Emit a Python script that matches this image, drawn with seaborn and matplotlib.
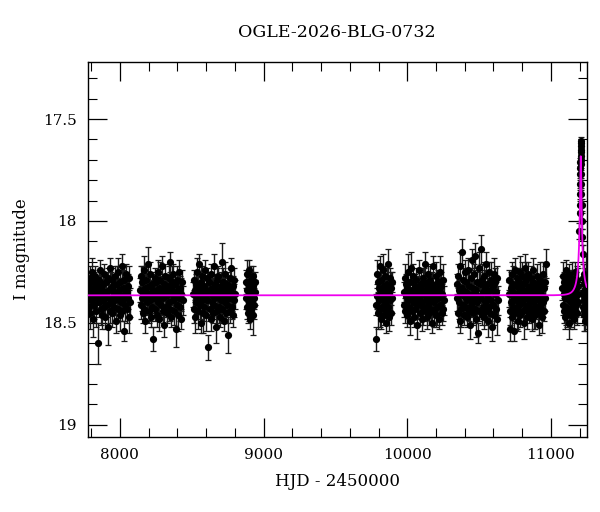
import numpy as np
import pandas as pd
import matplotlib
matplotlib.use("Agg")
import matplotlib.pyplot as plt
import seaborn as sns
from matplotlib.ticker import MultipleLocator

# ---------------- data ----------------
TITLE = "OGLE-2026-BLG-0732"
XLABEL = "HJD - 2450000"
YLABEL = "I magnitude"

# observing seasons: (start, end) in HJD-2450000
season_windows = [(7778, 8068), (8140, 8436), (8510, 8800), (8876, 8940),
                  (9782, 9894), (9976, 10255), (10343, 10630), (10707, 10963),
                  (11080, 11192), (11224, 11250)]

s1 = [18.31, 18.42, 18.36, 18.28, 18.45, 18.33, 18.39, 18.25, 18.37, 18.48,
      18.34, 18.30, 18.41, 18.36, 18.27, 18.44, 18.38, 18.32, 18.60, 18.35,
      18.29, 18.40, 18.37, 18.24, 18.43, 18.33, 18.46, 18.38, 18.31, 18.39,
      18.26, 18.42, 18.35, 18.47, 18.30, 18.36, 18.41, 18.28, 18.52, 18.34,
      18.38, 18.23, 18.44, 18.33, 18.40, 18.29, 18.45, 18.37, 18.32, 18.42,
      18.35, 18.27, 18.39, 18.49, 18.31, 18.36, 18.43, 18.25, 18.38, 18.34,
      18.46, 18.30, 18.40, 18.37, 18.22, 18.44, 18.33, 18.39, 18.29, 18.54,
      18.36, 18.41, 18.26, 18.35, 18.43, 18.32, 18.38, 18.47, 18.28, 18.40]
s2 = [18.34, 18.27, 18.41, 18.38, 18.30, 18.45, 18.36, 18.24, 18.43, 18.33,
      18.49, 18.35, 18.29, 18.40, 18.37, 18.21, 18.44, 18.32, 18.39, 18.26,
      18.47, 18.36, 18.31, 18.42, 18.34, 18.58, 18.38, 18.28, 18.43, 18.35,
      18.30, 18.46, 18.37, 18.25, 18.40, 18.33, 18.48, 18.36, 18.29, 18.41,
      18.35, 18.22, 18.44, 18.38, 18.31, 18.51, 18.34, 18.27, 18.42, 18.37,
      18.32, 18.45, 18.36, 18.28, 18.40, 18.20, 18.43, 18.33, 18.47, 18.35,
      18.30, 18.39, 18.26, 18.44, 18.37, 18.31, 18.53, 18.36, 18.29, 18.41,
      18.34, 18.46, 18.38, 18.25, 18.42, 18.33, 18.48, 18.36, 18.30, 18.39]
s3 = [18.36, 18.29, 18.43, 18.34, 18.47, 18.31, 18.40, 18.25, 18.38, 18.44,
      18.33, 18.21, 18.41, 18.36, 18.50, 18.30, 18.39, 18.27, 18.45, 18.35,
      18.32, 18.42, 18.37, 18.24, 18.46, 18.34, 18.39, 18.28, 18.62, 18.36,
      18.30, 18.43, 18.35, 18.48, 18.26, 18.40, 18.33, 18.45, 18.37, 18.22,
      18.41, 18.31, 18.38, 18.52, 18.34, 18.29, 18.44, 18.36, 18.27, 18.42,
      18.35, 18.47, 18.32, 18.39, 18.20, 18.43, 18.37, 18.30, 18.49, 18.34,
      18.40, 18.26, 18.45, 18.36, 18.31, 18.41, 18.56, 18.33, 18.38, 18.28,
      18.44, 18.35, 18.23, 18.42, 18.37, 18.46, 18.32, 18.39, 18.29, 18.36]
s4 = [18.30, 18.38, 18.26, 18.42, 18.34, 18.45, 18.31, 18.37, 18.24, 18.40,
      18.35, 18.48, 18.29, 18.36, 18.43, 18.33, 18.39, 18.27, 18.46, 18.32,
      18.38, 18.41, 18.35, 18.30]
s5 = [18.58, 18.41, 18.26, 18.37, 18.45, 18.30, 18.33, 18.39, 18.22, 18.43,
      18.35, 18.48, 18.29, 18.36, 18.42, 18.24, 18.38, 18.46, 18.32, 18.40,
      18.27, 18.44, 18.34, 18.50, 18.31, 18.37, 18.21, 18.42, 18.36, 18.47,
      18.28, 18.39, 18.33, 18.45, 18.30, 18.38]
s6 = [18.41, 18.35, 18.28, 18.44, 18.37, 18.31, 18.46, 18.33, 18.39, 18.25,
      18.42, 18.36, 18.49, 18.30, 18.38, 18.23, 18.44, 18.34, 18.40, 18.27,
      18.47, 18.36, 18.32, 18.43, 18.35, 18.29, 18.51, 18.38, 18.33, 18.41,
      18.24, 18.45, 18.37, 18.31, 18.40, 18.34, 18.48, 18.28, 18.42, 18.36,
      18.30, 18.44, 18.21, 18.39, 18.35, 18.47, 18.32, 18.41, 18.26, 18.38,
      18.45, 18.34, 18.29, 18.43, 18.37, 18.50, 18.31, 18.40, 18.22, 18.36,
      18.44, 18.33, 18.39, 18.27, 18.46, 18.35, 18.42, 18.30, 18.38, 18.48,
      18.34, 18.25, 18.41, 18.37, 18.32, 18.45, 18.36, 18.29, 18.43, 18.39]
s7 = [18.38, 18.31, 18.45, 18.27, 18.40, 18.34, 18.49, 18.22, 18.36, 18.43,
      18.15, 18.33, 18.41, 18.29, 18.46, 18.37, 18.25, 18.42, 18.35, 18.30,
      18.47, 18.39, 18.24, 18.44, 18.32, 18.38, 18.51, 18.28, 18.41, 18.36,
      18.19, 18.45, 18.33, 18.39, 18.26, 18.43, 18.17, 18.34, 18.48, 18.30,
      18.40, 18.55, 18.37, 18.23, 18.44, 18.31, 18.14, 18.38, 18.46, 18.29,
      18.42, 18.35, 18.27, 18.47, 18.33, 18.40, 18.21, 18.44, 18.36, 18.31,
      18.49, 18.38, 18.25, 18.42, 18.34, 18.45, 18.29, 18.39, 18.52, 18.32,
      18.41, 18.26, 18.46, 18.36, 18.30, 18.43, 18.35, 18.48, 18.28, 18.39]
s8 = [18.36, 18.29, 18.44, 18.53, 18.33, 18.40, 18.26, 18.47, 18.35, 18.31,
      18.42, 18.54, 18.38, 18.24, 18.45, 18.32, 18.39, 18.28, 18.43, 18.36,
      18.49, 18.30, 18.41, 18.34, 18.25, 18.46, 18.37, 18.33, 18.40, 18.27,
      18.44, 18.35, 18.50, 18.31, 18.38, 18.23, 18.42, 18.36, 18.29, 18.47,
      18.34, 18.41, 18.26, 18.39, 18.45, 18.32, 18.37, 18.28, 18.43, 18.35,
      18.48, 18.30, 18.40, 18.24, 18.44, 18.33, 18.38, 18.46, 18.31, 18.42,
      18.36, 18.27, 18.45, 18.34, 18.39, 18.51, 18.29, 18.41, 18.35, 18.43,
      18.32, 18.47, 18.37, 18.26, 18.40, 18.33, 18.44, 18.30, 18.38, 18.21]
s9 = [18.33, 18.41, 18.27, 18.44, 18.36, 18.30, 18.47, 18.38, 18.24, 18.42,
      18.35, 18.29, 18.45, 18.37, 18.32, 18.50, 18.39, 18.26, 18.43, 18.34,
      18.40, 18.31, 18.46, 18.36, 18.28, 18.42, 18.35, 18.48, 18.30, 18.38,
      18.25, 18.44, 18.33, 18.41, 18.37, 18.29, 18.45, 18.36, 18.32, 18.40]
s10 = [18.35, 18.42, 18.28, 18.39, 18.46, 18.31, 18.37, 18.44, 18.26, 18.40,
       18.34, 18.49, 18.30, 18.38, 18.43, 18.33, 18.36, 18.41, 18.27, 18.45,
       18.32, 18.39, 18.47, 18.35]
season_mags = [s1, s2, s3, s4, s5, s6, s7, s8, s9, s10]

# typical photometric errors
err_typical = [0.06, 0.05, 0.07, 0.06, 0.08, 0.05, 0.06, 0.07, 0.05, 0.09,
               0.06, 0.05, 0.07, 0.06, 0.05, 0.08, 0.06, 0.05, 0.10, 0.06,
               0.05, 0.07, 0.06, 0.05, 0.08, 0.06, 0.07, 0.05, 0.06, 0.07,
               0.05, 0.06, 0.08, 0.06, 0.05, 0.07, 0.06, 0.05, 0.09, 0.06,
               0.07, 0.05, 0.06, 0.08, 0.05, 0.06, 0.07, 0.06, 0.05, 0.08,
               0.06, 0.05, 0.07, 0.06, 0.09, 0.05, 0.06, 0.07, 0.05, 0.06,
               0.08, 0.06, 0.05, 0.07, 0.06, 0.05, 0.09, 0.06, 0.07, 0.05,
               0.06, 0.08, 0.05, 0.06, 0.07, 0.06, 0.05, 0.08, 0.06, 0.07]

# points on the microlensing peak
peak_t = [11199, 11201, 11202, 11203, 11204, 11205, 11205.5, 11206, 11206.5,
          11207, 11207.5, 11208, 11208.5, 11209, 11209.5, 11210, 11211, 11212,
          11213, 11214, 11216, 11218, 11221]
peak_mag = [18.05, 17.96, 17.92, 17.87, 17.82, 17.77, 17.74, 17.71, 17.68,
            17.65, 17.62, 17.61, 17.63, 17.66, 17.70, 17.72, 17.77, 17.82,
            17.87, 17.92, 18.00, 18.08, 18.16]
peak_err = [0.04, 0.04, 0.03, 0.03, 0.03, 0.03, 0.03, 0.02, 0.02,
            0.02, 0.02, 0.02, 0.02, 0.02, 0.02, 0.03, 0.03, 0.03,
            0.03, 0.03, 0.04, 0.04, 0.04]

# Paczynski point-lens model parameters
I_BASE = 18.365
T0 = 11208.0
TE = 45.0
U0 = 0.1
FS = 0.097

XLIM = (7775, 11250)
YLIM = (19.06, 17.22)

# ---------------- build tables ----------------
rows = []
for (a, b), mags in zip(season_windows, season_mags):
    tt = np.linspace(a, b, len(mags))
    for i, (t, m) in enumerate(zip(tt, mags)):
        rows.append((t, m, err_typical[i % len(err_typical)]))
for t, m, e in zip(peak_t, peak_mag, peak_err):
    rows.append((t, m, e))
df = pd.DataFrame(rows, columns=["hjd", "mag", "err"])

tm = np.linspace(XLIM[0], XLIM[1], 6000)
u = np.sqrt(U0 ** 2 + ((tm - T0) / TE) ** 2)
A = (u ** 2 + 2) / (u * np.sqrt(u ** 2 + 4))
mod = pd.DataFrame({"hjd": tm, "mag": I_BASE - 2.5 * np.log10(FS * A + 1 - FS)})

# ---------------- plot ----------------
sns.set_theme(style="ticks")
plt.rcParams["font.family"] = ["DejaVu Serif"]
plt.rcParams["mathtext.fontset"] = "dejavuserif"
plt.rcParams["text.color"] = "black"
plt.rcParams["axes.labelcolor"] = "black"
plt.rcParams["xtick.color"] = "black"
plt.rcParams["ytick.color"] = "black"

fig = plt.figure(figsize=(6, 5.12), dpi=100)
ax = fig.add_axes([0.146, 0.1465, 0.832, 0.7325])

ax.errorbar(df["hjd"], df["mag"], yerr=df["err"], fmt="none",
            ecolor="#1a1a1a", elinewidth=1.0, capsize=2.2, capthick=0.9,
            zorder=2)
sns.scatterplot(data=df, x="hjd", y="mag", ax=ax, color="black", s=27,
                edgecolor="black", linewidth=0, zorder=3, legend=False)
sns.lineplot(data=mod, x="hjd", y="mag", ax=ax, color="#ee00ee", lw=1.3,
             zorder=4, legend=False, sort=False, estimator=None)

ax.set_xlim(*XLIM)
ax.set_ylim(*YLIM)
ax.xaxis.set_major_locator(MultipleLocator(1000))
ax.xaxis.set_minor_locator(MultipleLocator(200))
ax.yaxis.set_major_locator(MultipleLocator(0.5))
ax.yaxis.set_minor_locator(MultipleLocator(0.1))
ax.yaxis.set_major_formatter(plt.FuncFormatter(lambda v, p: f"{v:g}"))
ax.tick_params(which="both", direction="in", top=True, right=True,
               colors="black", labelcolor="black", labelsize=11)
ax.tick_params(which="major", length=13.5, width=0.9, pad=8)
ax.tick_params(which="minor", length=6.5, width=0.8)
for sp in ax.spines.values():
    sp.set_linewidth(1.0)
    sp.set_color("black")

ax.set_xlabel(XLABEL, fontsize=12, labelpad=8, color="black")
ax.set_ylabel(YLABEL, fontsize=12, labelpad=9, color="black")
ax.set_title(TITLE, fontsize=12.5, pad=18, color="black")

fig.savefig("out.png", dpi=100)
